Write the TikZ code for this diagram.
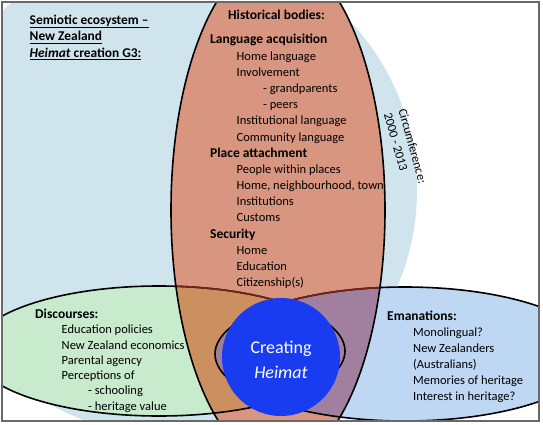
\documentclass[tikz,border=0pt]{standalone}
\usepackage{fontspec}
\setmainfont{Carlito}
\usetikzlibrary{calc}

\definecolor{ecoblue}{RGB}{207,228,236}
\definecolor{discgreen}{RGB}{200,235,205}
\definecolor{emanblue}{RGB}{190,215,243}
\definecolor{historange}{RGB}{216,150,128}
\definecolor{tanmix}{RGB}{204,143,95}
\definecolor{purplemix}{RGB}{160,128,158}
\definecolor{heimatblue}{RGB}{25,60,240}
\definecolor{framegray}{RGB}{105,105,105}
\definecolor{edgered}{RGB}{120,35,25}

% underline with a heavier rule
\newcommand{\ecoul}[1]{\setbox0\hbox{#1}\rlap{\rule[-2.8pt]{\wd0}{1.1pt}}\box0}

\begin{document}
\begin{tikzpicture}[x=1pt, y=-1pt,
    font=\fontsize{12.5}{15}\selectfont,
    outline/.style={black, line width=1.6pt},
    lvl0/.style={anchor=base west, inner sep=0pt, font=\fontsize{13.5}{15}\selectfont\bfseries},
    lvl1/.style={anchor=base west, inner sep=0pt},
    lvl2/.style={anchor=base west, inner sep=0pt},
    ecotitle/.style={anchor=base west, inner sep=0pt, font=\fontsize{13.4}{16}\selectfont\bfseries},
    bigtext/.style={anchor=base, inner sep=0pt, text=white, font=\fontsize{18}{20}\selectfont}]

    \useasboundingbox (0,0) rectangle (543,425);
    \fill[white] (0,0) rectangle (543,425);

    % the four regions
    \begin{scope}
        \clip (3,3) rectangle (538,420);
        \fill[ecoblue] (171,190) circle [radius=246pt];
        \fill[discgreen] (159,351) ellipse [x radius=186pt, y radius=65pt];
        \fill[emanblue] (405,354) ellipse [x radius=190pt, y radius=67pt];
        \fill[historange] (278,210) ellipse [x radius=107pt, y radius=254pt];
        \begin{scope}
            \clip (278,210) ellipse [x radius=107pt, y radius=254pt];
            \fill[tanmix] (159,351) ellipse [x radius=186pt, y radius=65pt];
            \fill[purplemix] (405,354) ellipse [x radius=190pt, y radius=67pt];
        \end{scope}
        \draw[outline] (159,351) ellipse [x radius=186pt, y radius=65pt];
        \draw[outline] (405,354) ellipse [x radius=190pt, y radius=67pt];
        \begin{scope}
            \clip (278,210) ellipse [x radius=107pt, y radius=254pt];
            \clip (0,0) rectangle (543,305);
            \draw[edgered, line width=1.6pt] (159,351) ellipse [x radius=186pt, y radius=65pt];
            \draw[edgered, line width=1.6pt] (405,354) ellipse [x radius=190pt, y radius=67pt];
        \end{scope}
        \draw[outline] (278,210) ellipse [x radius=107pt, y radius=254pt];
    \end{scope}

    \draw[framegray, line width=2pt] (2,2) rectangle (539,421);

    % semiotic ecosystem
    \node[ecotitle] (eco1) at (29.5,25) {\ecoul{Semiotic ecosystem –}};
    \node[ecotitle] (eco2) at (29.5,41) {\ecoul{New Zealand}};
    \node[ecotitle] (eco3) at (29.5,57.3) {\ecoul{\textit{Heimat} creation G3:}};
    \node[anchor=center, rotate=-74.5, align=left, inner sep=0pt] (circ) at (405.5,148) {Circumference:\\2000 - 2013};

    % historical bodies
    \node[lvl0] (histtitle) at (228,19.5) {Historical bodies:};
    \foreach \lvl/\txt [count=\k from 0] in {0/Language acquisition, 1/Home language, 1/Involvement,
        2/- grandparents, 2/- peers, 1/Institutional language, 1/Community language,
        0/Place attachment, 1/People within places, {1/Home, neighbourhood, town}, 1/Institutions,
        1/Customs, 0/Security, 1/Home, 1/Education, 1/Citizenship(s)}
        \node[lvl\lvl] (hist\k) at ({210+26.5*\lvl}, {44+16.17*\k}) {\txt};

    % discourses
    \foreach \lvl/\txt [count=\k from 0] in {0/Discourses:, 1/Education policies, 1/New Zealand economics,
        1/Parental agency, 1/Perceptions of, 2/- schooling, 2/- heritage value}
        \node[lvl\lvl] (disc\k) at ({35+26.5*\lvl}, {318.5+15.25*\k}) {\txt};

    % emanations
    \foreach \lvl/\txt [count=\k from 0] in {0/Emanations:, 1/Monolingual?, 1/New Zealanders,
        1/(Australians), 1/Memories of heritage, 1/Interest in heritage?}
        \node[lvl\lvl] (eman\k) at ({387+26*\lvl}, {320+16.1*\k}) {\txt};

    % creating heimat
    \node[circle, fill=heimatblue, minimum size=118pt, inner sep=0pt] (heimat) at (281,357) {};
    \node[bigtext] (creating) at (281,353.5) {Creating};
    \node[bigtext] (heimattxt) at (281,378.3) {\textit{Heimat}};
\end{tikzpicture}
\end{document}
